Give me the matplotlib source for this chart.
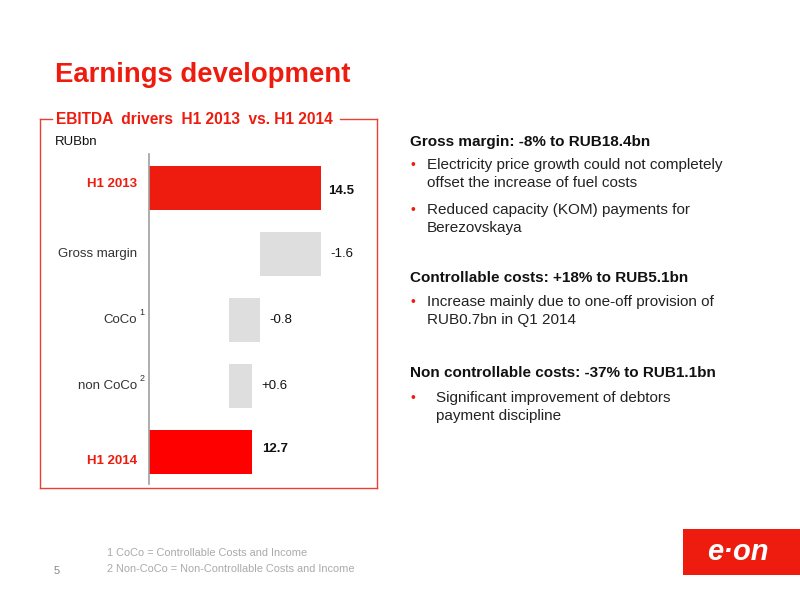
import matplotlib as mpl
import matplotlib.pyplot as plt
from matplotlib.patches import Rectangle
from matplotlib.lines import Line2D
import numpy as np

mpl.rc("font", family=["Liberation Sans", "DejaVu Sans"])

categories = ["H1 2013", "Gross margin", "CoCo", "non CoCo", "H1 2014"]
start_value = 14.5
deltas = [-1.6, -0.8, 0.6]
end_value = 12.7
value_labels = ["14.5", "-1.6", "-0.8", "+0.6", "12.7"]
superscripts = ["", "", "1", "2", ""]
axis_min = 10.0
axis_max = 16.0

red = "#ee1c0f"
red2 = "#ff0000"
grey_bar = "#dedede"
text_grey = "#333333"

fig = plt.figure(figsize=(8, 6), dpi=100)


def px(x, y):
    return x / 800, 1 - y / 600


# waterfall geometry from the values
lefts = [0.0]
widths = [start_value]
level = start_value
for d in deltas:
    new = level + d
    lefts.append(min(level, new))
    widths.append(abs(d))
    level = new
lefts.append(0.0)
widths.append(end_value)
rights = [l + w for l, w in zip(lefts, widths)]
colors = [red, grey_bar, grey_bar, grey_bar, red2]

ax = fig.add_axes([149 / 800, 116 / 600, 230 / 800, 330 / 600])
ypos = np.arange(len(categories))
ax.barh(ypos, widths, left=lefts, height=0.667, color=colors, zorder=2)
ax.set_xlim(axis_min, axis_max)
ax.set_ylim(4.49, -0.52)
for s in ["top", "right", "bottom"]:
    ax.spines[s].set_visible(False)
ax.spines["left"].set_color("#a0a0a0")
ax.spines["left"].set_linewidth(1.2)
ax.set_xticks([])
ax.set_yticks([])
ax.patch.set_alpha(0)

label_dy = [-4, 0, 0, 0, 9]
value_dx = [4.5, 6.5, 6.5, 6.5, 7]
value_dy = [-2, 0, 0, 0, 2]
for i, cat in enumerate(categories):
    is_total = i in (0, len(categories) - 1)
    ax.annotate(cat, xy=(0, ypos[i]), xycoords=("axes fraction", "data"),
                xytext=(-8.5, -label_dy[i] * 0.72), textcoords="offset points",
                ha="right", va="center", fontsize=9.5,
                color=red if is_total else text_grey,
                fontweight="bold" if is_total else "normal")
    if superscripts[i]:
        ax.annotate(superscripts[i], xy=(0, ypos[i]), xycoords=("axes fraction", "data"),
                    xytext=(-7, 5.5), textcoords="offset points",
                    ha="left", va="center", fontsize=6.5, color=text_grey)
    ax.annotate(value_labels[i], xy=(rights[i], ypos[i]),
                xytext=(value_dx[i], value_dy[i]), textcoords="offset points",
                ha="left", va="center", fontsize=9.5, color="#111111",
                fontweight="bold" if is_total else "normal")

# slide title
fig.text(*px(55, 75), "Earnings development", fontsize=19.8, fontweight="bold",
         color=red, ha="left", va="center")

# frame around chart
frame_col = "#e8412f"
for (x0, y0, x1, y1) in [(40, 119, 52, 119), (340, 119, 377, 119),
                         (40, 119, 40, 488), (377, 119, 377, 488), (40, 488, 377, 488)]:
    a, b = px(x0, y0)
    c, d = px(x1, y1)
    fig.add_artist(Line2D([a, c], [b, d], color=frame_col, lw=1.0))
fig.text(*px(56, 119), "EBITDA  drivers  H1 2013  vs. H1 2014", fontsize=11.2,
         fontweight="bold", color=red, ha="left", va="center")
fig.text(*px(55, 142), "RUBbn", fontsize=9.5, color="#111111", ha="left", va="center")

# commentary on the right
headers = [
    ("Gross margin: -8% to RUB18.4bn", 142),
    ("Controllable costs: +18% to RUB5.1bn", 278),
    ("Non controllable costs: -37% to RUB1.1bn", 373),
]
bullets = [
    (["Electricity price growth could not completely", "offset the increase of fuel costs"], 165, 427),
    (["Reduced capacity (KOM) payments for", "Berezovskaya"], 210, 427),
    (["Increase mainly due to one-off provision of", "RUB0.7bn in Q1 2014"], 302, 427),
    (["Significant improvement of debtors", "payment discipline"], 398, 436),
]
for txt, y in headers:
    fig.text(*px(410, y), txt, fontsize=11, fontweight="bold", color="#111111",
             ha="left", va="center")
for lines, y, x in bullets:
    fig.text(*px(413, y), "\u2022", fontsize=10, color=red, ha="center", va="center")
    for k, line in enumerate(lines):
        fig.text(*px(x, y + 18 * k), line, fontsize=11, color="#222222",
                 ha="left", va="center")

# footnotes
fig.text(*px(107, 553), "1 CoCo = Controllable Costs and Income", fontsize=7.9,
         color="#aaaaaa", ha="left", va="center")
fig.text(*px(107, 569), "2 Non-CoCo = Non-Controllable Costs and Income", fontsize=7.9,
         color="#aaaaaa", ha="left", va="center")
fig.text(*px(54, 571), "5", fontsize=8, color="#888888", ha="left", va="center")

# logo
lx, ly = px(683, 575)
fig.add_artist(Rectangle((lx, ly), 117 / 800, 46 / 600, facecolor=red,
                         edgecolor="none", transform=fig.transFigure))
fig.text(*px(738, 552), "e\u00b7on", fontsize=21, fontweight="bold", style="italic",
         color="white", ha="center", va="center")

fig.savefig("out.png", dpi=100)
